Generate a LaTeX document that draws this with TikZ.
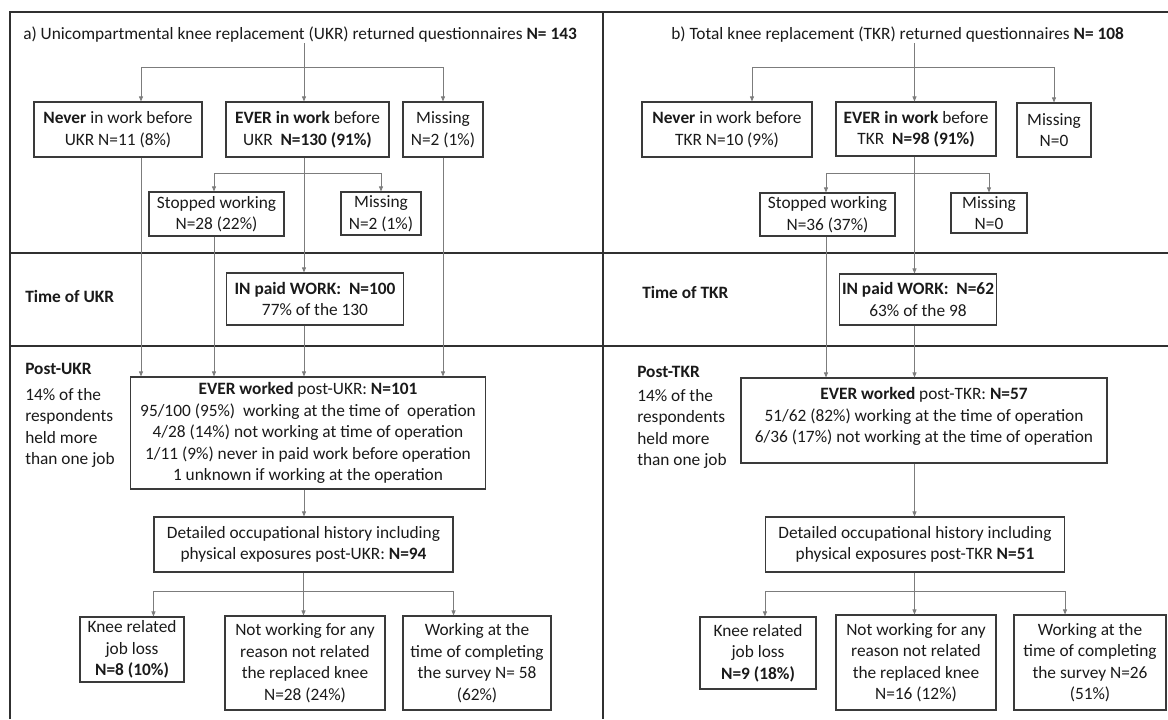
\documentclass[tikz,border=0pt]{standalone}
\usepackage{fontspec}
\setmainfont{Carlito}
\usetikzlibrary{positioning,arrows.meta,calc}
\definecolor{ink}{HTML}{1A1A1A}
\definecolor{frame}{HTML}{303030}
\definecolor{edge}{HTML}{3A3A3A}
\definecolor{wire}{HTML}{7C7C7C}
\newcommand{\boxfont}{\fontsize{13}{16.1}\selectfont}
\tikzset{
  blk/.style  = {draw=edge, line width=0.8pt, align=center, text=ink, font=\boxfont,
                 inner xsep=2pt, inner ysep=2pt},
  sz/.style 2 args = {minimum width=#1*0.75pt, minimum height=#2*0.75pt},
  hdr/.style  = {anchor=west, text=ink, font=\boxfont, inner sep=0pt},
  tag/.style  = {anchor=west, text=ink, font=\boxfont\bfseries, inner sep=0pt},
  note/.style = {anchor=north west, align=left, text=ink, font=\boxfont, inner sep=0pt},
  ar/.style   = {-{Triangle[length=3.8pt,width=3pt]}, draw=wire, line width=0.6pt},
  ln/.style   = {draw=wire, line width=0.6pt},
  rule/.style = {draw=frame, line width=1pt},
}
\begin{document}
\begin{tikzpicture}[x=0.75pt, y=-0.75pt]
  \useasboundingbox (0,0) rectangle (1168,719);

  % ---------------- frame ----------------
  \draw[rule] (10,719) -- (10,12) -- (1168,12);
  \draw[rule] (603,12) -- (603,719);
  \draw[rule] (10,253) -- (1168,253);
  \draw[rule] (10,346) -- (1168,346);

  % ---------------- a) UKR ----------------
  \coordinate (a1) at (141,0);
  \coordinate (a2) at (214,0);
  \coordinate (a3) at (304,0);
  \node[hdr] (titleA) at (23,35) {a) Unicompartmental knee replacement (UKR) returned questionnaires \textbf{N= 143}};
  \node[blk, sz={168}{55}] (neverA) at (118,129.5) {\textbf{Never} in work before\\UKR N=11 (8\%)};
  \node[blk, sz={163}{55}] (everA) at (307.5,129.5) {\textbf{EVER in work} before\\UKR\ \ \textbf{N=130 (91\%)}};
  \node[blk, sz={80}{55}] (missA) at (443,129.5) {Missing\\N=2 (1\%)};
  \coordinate (brA) at (304,67);
  \draw[ar] (titleA.south -| a3) -- (everA.north -| a3);
  \draw[ar] (brA) -| (neverA.north -| a1);
  \draw[ar] (brA) -| (missA.north);

  \node[blk, sz={135}{44}] (stopA) at (216.5,214) {Stopped working\\N=28 (22\%)};
  \node[blk, sz={80}{43}] (missA2) at (381,213.5) {Missing\\N=2 (1\%)};
  \coordinate (brA2) at (304,173);
  \draw[ar] (brA2) -| (stopA.north -| a2);
  \draw[ar] (brA2) -| (missA2.north);

  % time of operation
  \node[tag] (timeA) at (25,296) {Time of UKR};
  \node[blk, sz={177}{52}] (paidA) at (315,299) {\textbf{IN paid WORK:\ \ N=100}\\77\% of the 130};
  \draw[ar] (everA.south -| a3) -- (paidA.north -| a3);

  % post operation
  \node[tag] (postA) at (25,369) {Post-UKR};
  \node[note] (noteA) at (25,388) {14\% of the\\respondents\\held more\\than one job};
  \node[blk, sz={355}{112}] (workA) at (308,433)
       {\textbf{EVER worked} post-UKR: \textbf{N=101}\\95/100 (95\%)\ \ working at the time of\ \ operation\\4/28 (14\%) not working at time of operation\\1/11 (9\%) never in paid work before operation\\1 unknown if working at the operation};
  \draw[ar] (neverA.south -| a1) -- (workA.north -| a1);
  \draw[ar] (stopA.south -| a2) -- (workA.north -| a2);
  \draw[ar] (paidA.south -| a3) -- (workA.north -| a3);
  \draw[ar] (missA.south) -- (workA.north -| missA.south);

  \node[blk, sz={299}{55}] (detA) at (303.5,544.5) {Detailed occupational history including\\physical exposures post-UKR: \textbf{N=94}};
  \draw[ar] (workA.south -| a3) -- (detA.north -| a3);

  \node[blk, sz={104}{65}] (kneeA) at (132,649.5) {Knee related\\job loss\\\textbf{N=8 (10\%)}};
  \node[blk, sz={160}{94}] (notA) at (305,663) {Not working for any\\reason not related\\the replaced knee\\N=28 (24\%)};
  \node[blk, sz={148}{94}] (survA) at (477,663) {Working at the\\time of completing\\the survey N= 58\\(62\%)};
  \coordinate (brA3) at (303.5,591);
  \draw[ln] (detA.south) -- (brA3);
  \draw[ar] (brA3) -| (kneeA.north -| detA.west);
  \draw[ar] (brA3) -- (notA.north -| brA3);
  \draw[ar] (brA3) -| (survA.north -| detA.east);

  % ---------------- b) TKR ----------------
  \coordinate (b1) at (752,0);
  \coordinate (b2) at (826,0);
  \coordinate (b3) at (914.5,0);
  \node[hdr] (titleB) at (671,35) {b) Total knee replacement (TKR) returned questionnaires \textbf{N= 108}};
  \node[blk, sz={170}{55}] (neverB) at (727,129.5) {\textbf{Never} in work before\\TKR N=10 (9\%)};
  \node[blk, sz={160}{54}] (everB) at (916,129) {\textbf{EVER in work} before\\TKR\ \ \textbf{N=98 (91\%)}};
  \node[blk, sz={74}{54}] (missB) at (1054,130) {Missing\\N=0};
  \coordinate (brB) at (914.5,67);
  \draw[ar] (titleB.south -| b3) -- (everB.north -| b3);
  \draw[ar] (brB) -| (neverB.north -| b1);
  \draw[ar] (brB) -| (missB.north);

  \node[blk, sz={135}{43}] (stopB) at (827.5,214.5) {Stopped working\\N=36 (37\%)};
  \node[blk, sz={76}{40}, inner ysep=0pt] (missB2) at (989,213) {Missing\\N=0};
  \coordinate (brB2) at (914.5,173);
  \draw[ar] (brB2) -| (stopB.north -| b2);
  \draw[ar] (brB2) -| (missB2.north);

  % time of operation
  \node[tag] (timeB) at (642,292) {Time of TKR};
  \node[blk, sz={156}{51}] (paidB) at (918,299.5) {\textbf{IN paid WORK:\ \ N=62}\\63\% of the 98};
  \draw[ar] (everB.south -| b3) -- (paidB.north -| b3);

  % post operation
  \node[tag] (postB) at (637,372) {Post-TKR};
  \node[note] (noteB) at (637,389) {14\% of the\\respondents\\held more\\than one job};
  \node[blk, sz={366}{85}] (workB) at (924,420.5)
       {\textbf{EVER worked} post-TKR: \textbf{N=57}\\51/62 (82\%) working at the time of operation\\6/36 (17\%) not working at the time of operation\\[-8pt]};
  \draw[ar] (stopB.south -| b2) -- (workB.north -| b2);
  \draw[ar] (paidB.south -| b3) -- (workB.north -| b3);

  \node[blk, sz={299}{55}] (detB) at (915,544.5) {Detailed occupational history including\\physical exposures post-TKR \textbf{N=51}};
  \draw[ar] (workB.south -| b3) -- (detB.north -| b3);

  \node[blk, sz={116}{72}] (kneeB) at (758,653) {Knee related\\job loss\\\textbf{N=9 (18\%)}};
  \node[blk, sz={160}{95}] (notB) at (916,662.5) {Not working for any\\reason not related\\the replaced knee\\N=16 (12\%)};
  \node[blk, sz={152}{95}] (survB) at (1090,662.5) {Working at the\\time of completing\\the survey N=26\\(51\%)};
  \coordinate (brB3) at (914.5,591);
  \draw[ln] (detB.south -| b3) -- (brB3);
  \draw[ar] (brB3) -| (kneeB.north -| detB.west);
  \draw[ar] (brB3) -- (notB.north -| b3);
  \draw[ar] (brB3) -| (survB.north -| detB.east);
\end{tikzpicture}
\end{document}
